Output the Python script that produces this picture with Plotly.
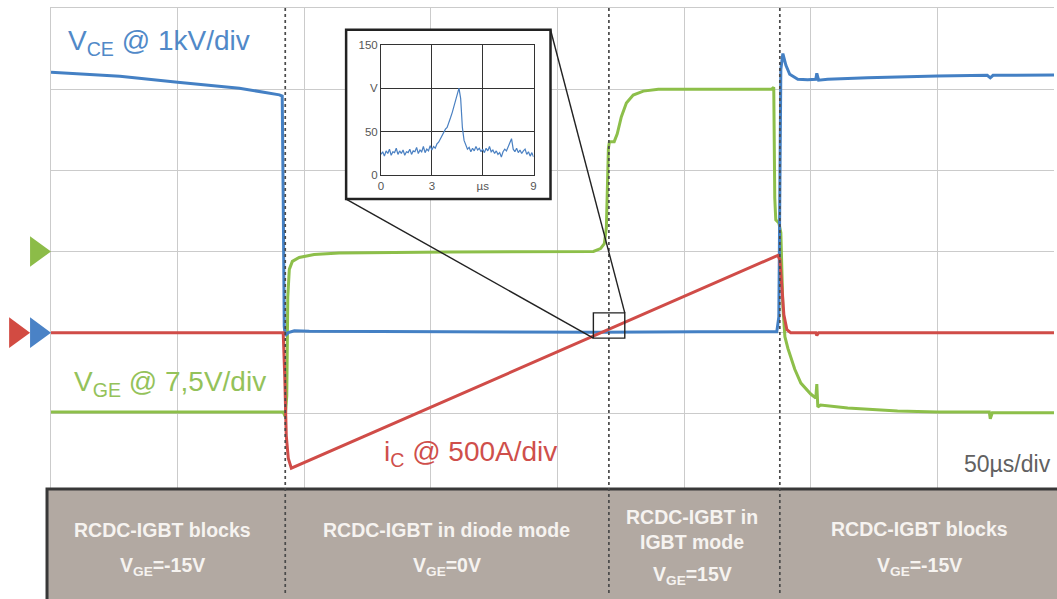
import plotly.graph_objects as go

# ---------------- measured waveforms ----------------
# time axis in microseconds, 50 us per division
vce_t = [0, 27.2, 50.0, 74.4, 90.2, 91.3, 91.7, 92.1, 92.5, 93.7, 96.1, 102.0, 157.1,
         216.1, 255.5, 286.6, 287.4, 287.8, 288.2, 289.0, 290.2, 291.7, 294.9, 298.8,
         302.0, 302.4, 303.1, 306.7, 322.4, 350.0, 369.7, 370.9, 372.0, 396.1]
vce_v = [3207, 3159, 3085, 3012, 2930, 2915, 1659, 73, -37, 0, 24, 18, 12,
         6, 12, 12, 195, 2268, 3244, 3439, 3293, 3183, 3122, 3116,
         3122, 3195, 3110, 3122, 3140, 3162, 3171, 3140, 3171, 3174]

ic_t = [0, 91.7, 92.3, 92.9, 93.7, 94.9, 287.0, 287.8, 288.6, 289.4, 290.6, 292.1,
        302.0, 302.4, 303.1, 396.1]
ic_a = [0, 0, -268, -634, -774, -835, 476, 451, 280, 110, 18, 0,
        0, -18, 0, 0]

vge_t = [0, 91.7, 92.5, 93.1, 93.5, 94.1, 95.3, 98.0, 103.9, 113.8, 157.1, 214.2,
         217.0, 218.5, 219.3, 220.1, 220.5, 222.4, 223.6, 225.2, 227.2, 229.9, 233.9,
         239.8, 255.5, 284.6, 285.4, 285.8, 286.2, 287.4, 288.2, 289.0, 289.8, 291.0,
         293.7, 296.1, 300.0, 302.0, 302.4, 302.8, 303.9, 314.6, 334.3, 350.0, 370.5,
         370.9, 371.7, 396.1]
vge_v = [-14.82, -14.82, -15.27, -13.35, -4.21, -1.65, -0.91, -0.55, -0.27, -0.14, -0.05, 0.0,
         0.27, 0.73, 2.20, 9.51, 10.15, 10.15, 10.88, 12.44, 13.72, 14.45, 14.82,
         15.0, 15.0, 15.0, 15.18, 4.94, 2.93, 2.65, 1.74, -5.12, -7.87, -8.96,
         -10.88, -12.16, -13.17, -13.54, -12.26, -14.36, -14.18, -14.45, -14.73, -14.82, -14.82,
         -15.46, -14.91, -14.91]

# zoomed VCE detail around the current zero crossing (us, V)
zoom_t = [round(0.1 * i, 1) for i in range(91)]
zoom_v = [24, 27, 22, 28, 25, 30, 23, 27, 26, 31, 24, 28, 25, 29, 23, 27, 26, 30, 24, 28,
          27, 32, 25, 29, 27, 33, 26, 30, 28, 34, 29, 33, 31, 36, 38, 42, 45, 50, 53, 55,
          62, 66, 72, 79, 86, 92, 100, 88, 55, 40, 34, 30, 32, 27, 31, 28, 33, 29, 31, 27,
          30, 26, 31, 28, 33, 27, 29, 25, 28, 24, 26, 21, 27, 30, 28, 33, 36, 42, 30, 27,
          31, 26, 29, 25, 28, 30, 24, 27, 22, 26, 21]

# channel settings: volts (or amps) per division and ground offset in divisions
VCE_PER_DIV, VCE_OFFSET = 1000.0, 0.0
IC_PER_DIV, IC_OFFSET = 500.0, 0.0
VGE_PER_DIV, VGE_OFFSET = 7.5, 1.0

# switching instants (us) and operating-phase labels
phase_edges = [92.5, 220.3, 287.8]
phase_lines = [
    ["RCDC-IGBT blocks", "V<sub>GE</sub>=-15V"],
    ["RCDC-IGBT in diode mode", "V<sub>GE</sub>=0V"],
    ["RCDC-IGBT in", "IGBT mode", "V<sub>GE</sub>=15V"],
    ["RCDC-IGBT blocks", "V<sub>GE</sub>=-15V"],
]

zoom_xticks = [0, 3, 6, 9]
zoom_xlabels = ["0", "3", "µs", "9"]
zoom_yticks = [0, 50, 100, 150]
zoom_ylabels = ["0", "50", "V", "150"]

# ---------------- layout geometry ----------------
W, H = 1057, 599
ML, MT = 51, 8
PW, PH = W - ML, H - MT
T_RANGE = [0, PW / 127.0 * 50.0]
Y_RANGE = [-(H - 336) / 82.0, (336 - MT) / 82.0]


def px_x(p):
    return (p - ML) / PW


def px_y(p):
    return (H - p) / PH


BLUE, GREEN, RED = "#4480c4", "#8dbf4a", "#d04c48"
FONT = "Liberation Sans, Arial, sans-serif"

fig = go.Figure()

fig.add_trace(go.Scatter(x=vge_t, y=[v / VGE_PER_DIV + VGE_OFFSET for v in vge_v],
                         mode="lines", line=dict(color=GREEN, width=3), hoverinfo="skip"))
fig.add_trace(go.Scatter(x=vce_t, y=[v / VCE_PER_DIV + VCE_OFFSET for v in vce_v],
                         mode="lines", line=dict(color=BLUE, width=3), hoverinfo="skip"))
fig.add_trace(go.Scatter(x=ic_t, y=[a / IC_PER_DIV + IC_OFFSET for a in ic_a],
                         mode="lines", line=dict(color=RED, width=3), hoverinfo="skip"))

# white backing for the detail view
fig.add_trace(go.Scatter(x=[0, 1, 1, 0, 0], y=[0, 0, 1, 1, 0], fill="toself",
                         fillcolor="white", line=dict(width=0), mode="lines",
                         xaxis="x2", yaxis="y2", hoverinfo="skip"))
# detail view trace
fig.add_trace(go.Scatter(x=zoom_t, y=zoom_v, mode="lines",
                         line=dict(color="#4a80c2", width=1.2),
                         xaxis="x3", yaxis="y3", hoverinfo="skip"))

grid = "#cbcbcb"
fig.update_layout(
    width=W, height=H,
    margin=dict(l=ML, r=0, t=MT, b=0, pad=0),
    paper_bgcolor="white", plot_bgcolor="white",
    showlegend=False,
    font=dict(family=FONT),
    xaxis=dict(range=T_RANGE, tick0=0, dtick=50, showgrid=True, gridcolor=grid, gridwidth=1,
               zeroline=False, showticklabels=False, ticks="", showline=True,
               linecolor=grid, linewidth=1, mirror=True, fixedrange=True),
    yaxis=dict(range=Y_RANGE, tick0=0, dtick=1, showgrid=True, gridcolor=grid, gridwidth=1,
               zeroline=False, showticklabels=False, ticks="", showline=True,
               linecolor=grid, linewidth=1, fixedrange=True),
    xaxis2=dict(domain=[px_x(347), px_x(552)], range=[0, 1], visible=False, anchor="y2"),
    yaxis2=dict(domain=[px_y(201), px_y(30)], range=[0, 1], visible=False, anchor="x2"),
    xaxis3=dict(domain=[px_x(382), px_x(535)], range=[0, 9], anchor="y3",
                tickvals=zoom_xticks, ticktext=zoom_xlabels, showgrid=True,
                gridcolor="#333", gridwidth=1, zeroline=False, showline=True, mirror=True,
                linecolor="#333", linewidth=1, ticks="",
                tickfont=dict(size=11.5, color="#555", family=FONT)),
    yaxis3=dict(domain=[px_y(177), px_y(45)], range=[0, 150], anchor="x3",
                tickvals=zoom_yticks, ticktext=zoom_ylabels, showgrid=True,
                gridcolor="#333", gridwidth=1, zeroline=False, showline=True, mirror=True,
                linecolor="#333", linewidth=1, ticks="",
                tickfont=dict(size=11.5, color="#555", family=FONT)),
)

shapes = []
# phase band at the bottom
shapes.append(dict(type="rect", xref="paper", yref="paper",
                   x0=px_x(47), x1=px_x(W + 10), y0=px_y(494), y1=px_y(H + 10),
                   fillcolor="#b2a9a2", line=dict(color="#383838", width=3), layer="above"))
# switching instants
for t in phase_edges:
    shapes.append(dict(type="line", xref="x", yref="paper", x0=t, x1=t, y0=0, y1=1,
                       line=dict(color="#4a4a4a", width=1.7, dash="dot"), layer="above"))
# detail frame and its leader lines
shapes.append(dict(type="rect", xref="paper", yref="paper",
                   x0=px_x(347), x1=px_x(552), y0=px_y(201), y1=px_y(30),
                   line=dict(color="#222", width=2.5), layer="above"))
shapes.append(dict(type="rect", xref="paper", yref="paper",
                   x0=px_x(595), x1=px_x(626.5), y0=px_y(341.5), y1=px_y(316),
                   line=dict(color="#222", width=1.4), layer="above"))
shapes.append(dict(type="line", xref="paper", yref="paper",
                   x0=px_x(347), y0=px_y(201), x1=px_x(595), y1=px_y(341.5),
                   line=dict(color="#222", width=1.4), layer="above"))
shapes.append(dict(type="line", xref="paper", yref="paper",
                   x0=px_x(552), y0=px_y(30), x1=px_x(626.5), y1=px_y(316),
                   line=dict(color="#222", width=1.4), layer="above"))


# channel ground markers in the left margin
def tri(tip_x, tip_y, color):
    x0, x1 = px_x(tip_x - 21), px_x(tip_x)
    ya, yb, yc = px_y(tip_y - 15.5), px_y(tip_y), px_y(tip_y + 15.5)
    return dict(type="path", xref="paper", yref="paper",
                path=f"M {x0},{ya} L {x1},{yb} L {x0},{yc} Z",
                fillcolor=color, line=dict(width=0), layer="above")


shapes.append(tri(51, 254, "#8cbc48"))
shapes.append(tri(30, 336, "#d24b42"))
shapes.append(tri(51, 336, "#4a82c6"))
fig.update_layout(shapes=shapes)

ann = []


def label(text, x, y, color, size, xanchor="left", bold=False):
    if bold:
        text = f"<b>{text}</b>"
    ann.append(dict(text=text, x=px_x(x), y=px_y(y), xref="paper", yref="paper",
                    xanchor=xanchor, yanchor="middle", showarrow=False,
                    font=dict(size=size, color=color, family=FONT)))


label("V<sub>CE</sub> @ 1kV/div", 66, 43, "#5189c8", 28)
label("V<sub>GE</sub> @ 7,5V/div", 72, 387, "#94c25a", 28)
label("i<sub>C</sub> @ 500A/div", 383, 458, "#cf4f4b", 28)
label("50µs/div", 1056, 469, "#616161", 23, xanchor="right")

centers = [163, 448, 694, 922]
rows = [[535, 572], [535, 572], [522, 547, 581], [534, 572]]
for cx, lines, ys in zip(centers, phase_lines, rows):
    for txt, yy in zip(lines, ys):
        label(txt, cx, yy, "#f6f3f0", 19.5, xanchor="center", bold=True)

fig.update_layout(annotations=ann)

fig.write_html("out.html")
